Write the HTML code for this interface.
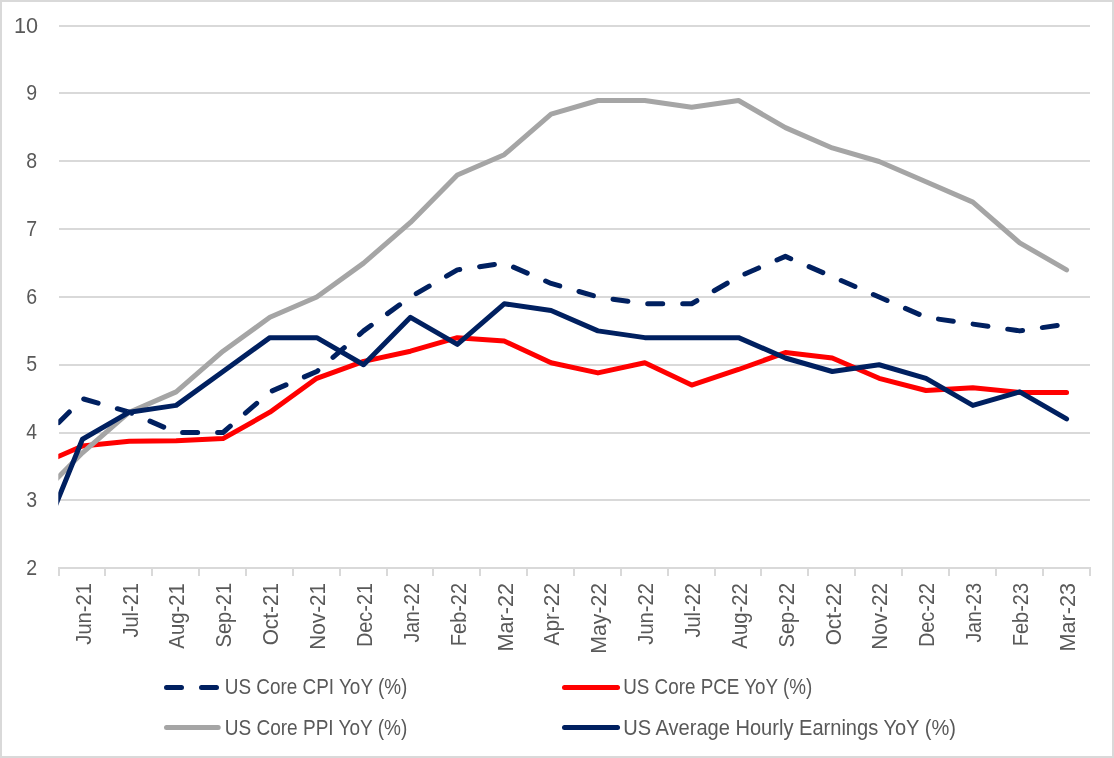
<!DOCTYPE html>
<html><head><meta charset="utf-8"><style>
html,body{margin:0;padding:0;background:#fff;overflow:hidden;}
svg{display:block;will-change:transform;}
text{font-family:"Liberation Sans",sans-serif;fill:#595959;font-size:21.5px;}
</style></head><body>
<svg width="1114" height="758" viewBox="0 0 1114 758">
<rect x="0" y="0" width="1114" height="758" fill="#fff"/>
<rect x="1" y="1" width="1112" height="756" fill="none" stroke="#D9D9D9" stroke-width="2"/>

<line x1="59.0" y1="500" x2="1090.0" y2="500" stroke="#D9D9D9" stroke-width="2"/>
<line x1="59.0" y1="433" x2="1090.0" y2="433" stroke="#D9D9D9" stroke-width="2"/>
<line x1="59.0" y1="365" x2="1090.0" y2="365" stroke="#D9D9D9" stroke-width="2"/>
<line x1="59.0" y1="297" x2="1090.0" y2="297" stroke="#D9D9D9" stroke-width="2"/>
<line x1="59.0" y1="229" x2="1090.0" y2="229" stroke="#D9D9D9" stroke-width="2"/>
<line x1="59.0" y1="161" x2="1090.0" y2="161" stroke="#D9D9D9" stroke-width="2"/>
<line x1="59.0" y1="93" x2="1090.0" y2="93" stroke="#D9D9D9" stroke-width="2"/>
<line x1="59.0" y1="26" x2="1090.0" y2="26" stroke="#D9D9D9" stroke-width="2"/>
<line x1="58.0" y1="568.0" x2="1091.0" y2="568.0" stroke="#D9D9D9" stroke-width="2"/>
<line x1="59" y1="567.0" x2="59" y2="576.0" stroke="#D9D9D9" stroke-width="2"/>
<line x1="105" y1="567.0" x2="105" y2="576.0" stroke="#D9D9D9" stroke-width="2"/>
<line x1="152" y1="567.0" x2="152" y2="576.0" stroke="#D9D9D9" stroke-width="2"/>
<line x1="199" y1="567.0" x2="199" y2="576.0" stroke="#D9D9D9" stroke-width="2"/>
<line x1="246" y1="567.0" x2="246" y2="576.0" stroke="#D9D9D9" stroke-width="2"/>
<line x1="293" y1="567.0" x2="293" y2="576.0" stroke="#D9D9D9" stroke-width="2"/>
<line x1="340" y1="567.0" x2="340" y2="576.0" stroke="#D9D9D9" stroke-width="2"/>
<line x1="387" y1="567.0" x2="387" y2="576.0" stroke="#D9D9D9" stroke-width="2"/>
<line x1="433" y1="567.0" x2="433" y2="576.0" stroke="#D9D9D9" stroke-width="2"/>
<line x1="480" y1="567.0" x2="480" y2="576.0" stroke="#D9D9D9" stroke-width="2"/>
<line x1="527" y1="567.0" x2="527" y2="576.0" stroke="#D9D9D9" stroke-width="2"/>
<line x1="574" y1="567.0" x2="574" y2="576.0" stroke="#D9D9D9" stroke-width="2"/>
<line x1="621" y1="567.0" x2="621" y2="576.0" stroke="#D9D9D9" stroke-width="2"/>
<line x1="668" y1="567.0" x2="668" y2="576.0" stroke="#D9D9D9" stroke-width="2"/>
<line x1="715" y1="567.0" x2="715" y2="576.0" stroke="#D9D9D9" stroke-width="2"/>
<line x1="761" y1="567.0" x2="761" y2="576.0" stroke="#D9D9D9" stroke-width="2"/>
<line x1="808" y1="567.0" x2="808" y2="576.0" stroke="#D9D9D9" stroke-width="2"/>
<line x1="855" y1="567.0" x2="855" y2="576.0" stroke="#D9D9D9" stroke-width="2"/>
<line x1="902" y1="567.0" x2="902" y2="576.0" stroke="#D9D9D9" stroke-width="2"/>
<line x1="949" y1="567.0" x2="949" y2="576.0" stroke="#D9D9D9" stroke-width="2"/>
<line x1="996" y1="567.0" x2="996" y2="576.0" stroke="#D9D9D9" stroke-width="2"/>
<line x1="1043" y1="567.0" x2="1043" y2="576.0" stroke="#D9D9D9" stroke-width="2"/>
<line x1="1090" y1="567.0" x2="1090" y2="576.0" stroke="#D9D9D9" stroke-width="2"/>
<text x="26.30" y="574.60" textLength="10.87" lengthAdjust="spacingAndGlyphs">2</text>
<text x="26.30" y="506.85" textLength="10.87" lengthAdjust="spacingAndGlyphs">3</text>
<text x="26.30" y="439.10" textLength="10.73" lengthAdjust="spacingAndGlyphs">4</text>
<text x="26.30" y="371.35" textLength="10.87" lengthAdjust="spacingAndGlyphs">5</text>
<text x="26.30" y="303.60" textLength="10.87" lengthAdjust="spacingAndGlyphs">6</text>
<text x="26.30" y="235.85" textLength="10.87" lengthAdjust="spacingAndGlyphs">7</text>
<text x="26.30" y="168.10" textLength="10.87" lengthAdjust="spacingAndGlyphs">8</text>
<text x="26.30" y="100.35" textLength="10.87" lengthAdjust="spacingAndGlyphs">9</text>
<text x="14.05" y="32.60" textLength="24.07" lengthAdjust="spacingAndGlyphs">10</text>
<text transform="translate(90.73,644.70) rotate(-90)" textLength="61.69" lengthAdjust="spacingAndGlyphs">Jun-21</text>
<text transform="translate(137.60,637.50) rotate(-90)" textLength="54.48" lengthAdjust="spacingAndGlyphs">Jul-21</text>
<text transform="translate(184.46,648.65) rotate(-90)" textLength="65.60" lengthAdjust="spacingAndGlyphs">Aug-21</text>
<text transform="translate(231.32,647.40) rotate(-90)" textLength="64.42" lengthAdjust="spacingAndGlyphs">Sep-21</text>
<text transform="translate(278.19,645.30) rotate(-90)" textLength="62.30" lengthAdjust="spacingAndGlyphs">Oct-21</text>
<text transform="translate(325.05,649.65) rotate(-90)" textLength="66.70" lengthAdjust="spacingAndGlyphs">Nov-21</text>
<text transform="translate(371.91,647.10) rotate(-90)" textLength="64.17" lengthAdjust="spacingAndGlyphs">Dec-21</text>
<text transform="translate(418.78,642.50) rotate(-90)" textLength="59.47" lengthAdjust="spacingAndGlyphs">Jan-22</text>
<text transform="translate(465.64,646.15) rotate(-90)" textLength="63.20" lengthAdjust="spacingAndGlyphs">Feb-22</text>
<text transform="translate(512.50,651.45) rotate(-90)" textLength="68.50" lengthAdjust="spacingAndGlyphs">Mar-22</text>
<text transform="translate(559.37,645.40) rotate(-90)" textLength="62.35" lengthAdjust="spacingAndGlyphs">Apr-22</text>
<text transform="translate(606.23,653.70) rotate(-90)" textLength="70.76" lengthAdjust="spacingAndGlyphs">May-22</text>
<text transform="translate(653.10,644.70) rotate(-90)" textLength="61.69" lengthAdjust="spacingAndGlyphs">Jun-22</text>
<text transform="translate(699.96,637.50) rotate(-90)" textLength="54.48" lengthAdjust="spacingAndGlyphs">Jul-22</text>
<text transform="translate(746.82,648.65) rotate(-90)" textLength="65.60" lengthAdjust="spacingAndGlyphs">Aug-22</text>
<text transform="translate(793.69,647.40) rotate(-90)" textLength="64.42" lengthAdjust="spacingAndGlyphs">Sep-22</text>
<text transform="translate(840.55,645.30) rotate(-90)" textLength="62.30" lengthAdjust="spacingAndGlyphs">Oct-22</text>
<text transform="translate(887.41,649.65) rotate(-90)" textLength="66.70" lengthAdjust="spacingAndGlyphs">Nov-22</text>
<text transform="translate(934.28,647.10) rotate(-90)" textLength="64.17" lengthAdjust="spacingAndGlyphs">Dec-22</text>
<text transform="translate(981.14,642.50) rotate(-90)" textLength="59.49" lengthAdjust="spacingAndGlyphs">Jan-23</text>
<text transform="translate(1028.00,646.15) rotate(-90)" textLength="63.19" lengthAdjust="spacingAndGlyphs">Feb-23</text>
<text transform="translate(1074.87,651.45) rotate(-90)" textLength="68.46" lengthAdjust="spacingAndGlyphs">Mar-23</text>
<defs><clipPath id="pc"><rect x="58.3" y="0" width="1031.7" height="758"/></clipPath></defs>
<g clip-path="url(#pc)" fill="none" stroke-linejoin="round">
<polyline points="35.57,446.05 82.43,398.62 129.30,412.18 176.16,432.50 223.02,432.50 269.89,391.85 316.75,371.52 363.61,330.88 410.48,297.00 457.34,269.90 504.20,263.12 551.07,283.45 597.93,297.00 644.80,303.77 691.66,303.77 738.52,276.68 785.39,256.35 832.25,276.68 879.11,297.00 925.98,317.32 972.84,324.10 1019.70,330.88 1066.57,324.10" stroke="#002060" stroke-width="5.0" stroke-linecap="round" stroke-dasharray="15 20" stroke-dashoffset="2"/>
<polyline points="35.57,466.38 82.43,446.05 129.30,441.31 176.16,440.63 223.02,438.60 269.89,412.18 316.75,378.30 363.61,361.36 410.48,351.20 457.34,337.65 504.20,341.04 551.07,362.72 597.93,372.88 644.80,362.72 691.66,385.07 738.52,369.49 785.39,352.56 832.25,357.98 879.11,378.30 925.98,390.50 972.84,387.78 1019.70,392.53 1066.57,392.53" stroke="#FF0000" stroke-width="5.0" stroke-linecap="round"/>
<polyline points="35.57,500.25 82.43,452.82 129.30,412.18 176.16,391.85 223.02,351.20 269.89,317.32 316.75,297.00 363.61,263.12 410.48,222.48 457.34,175.05 504.20,154.73 551.07,114.08 597.93,100.52 644.80,100.52 691.66,107.30 738.52,100.52 785.39,127.62 832.25,147.95 879.11,161.50 925.98,181.82 972.84,202.15 1019.70,242.80 1066.57,269.90" stroke="#A5A5A5" stroke-width="5.0" stroke-linecap="round"/>
<polyline points="35.57,554.45 82.43,439.27 129.30,412.18 176.16,405.40 223.02,371.52 269.89,337.65 316.75,337.65 363.61,364.75 410.48,317.32 457.34,344.43 504.20,303.77 551.07,310.55 597.93,330.88 644.80,337.65 691.66,337.65 738.52,337.65 785.39,357.98 832.25,371.52 879.11,364.75 925.98,378.30 972.84,405.40 1019.70,391.85 1066.57,418.95" stroke="#002060" stroke-width="5.0" stroke-linecap="round"/>
</g>
<line x1="166.5" y1="687.4" x2="218.2" y2="687.4" stroke="#002060" stroke-width="5.0" stroke-linecap="round" stroke-dasharray="15 20"/>
<line x1="166.5" y1="727.5" x2="218.2" y2="727.5" stroke="#A5A5A5" stroke-width="5.0" stroke-linecap="round"/>
<line x1="564.5" y1="687.4" x2="617.5" y2="687.4" stroke="#FF0000" stroke-width="5.0" stroke-linecap="round"/>
<line x1="564.5" y1="727.5" x2="617.5" y2="727.5" stroke="#002060" stroke-width="5.0" stroke-linecap="round"/>
<text x="224.75" y="693.60" textLength="182.59" lengthAdjust="spacingAndGlyphs">US Core CPI YoY (%)</text>
<text x="224.75" y="734.70" textLength="182.59" lengthAdjust="spacingAndGlyphs">US Core PPI YoY (%)</text>
<text x="623.20" y="693.60" textLength="189.15" lengthAdjust="spacingAndGlyphs">US Core PCE YoY (%)</text>
<text x="623.20" y="734.70" textLength="332.73" lengthAdjust="spacingAndGlyphs">US Average Hourly Earnings YoY (%)</text>
</svg></body></html>
